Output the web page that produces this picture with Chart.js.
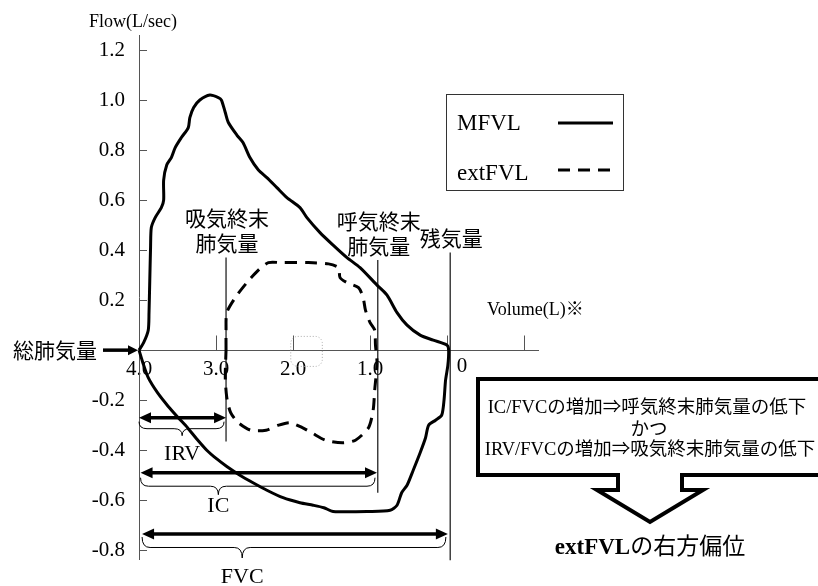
<!DOCTYPE html>
<html>
<head>
<meta charset="utf-8">
<script src="https://cdn.jsdelivr.net/npm/chart.js@4/dist/chart.umd.min.js"></script>
<style>
  html, body { margin: 0; padding: 0; background: #fff; }
  canvas { display: block; }
</style>
</head>
<body>
<canvas id="loop" width="818" height="586"></canvas>
<script>
// Maximal flow-volume loop (MFVL), traced from TLC over the expiratory limb and back along inspiration
const mfvlVolume = [4.00, 3.94, 3.88, 3.87, 3.86, 3.85, 3.84, 3.79, 3.71, 3.68, 3.68, 3.64, 3.58, 3.53, 3.45, 3.36, 3.34, 3.29, 3.21, 3.08,
  2.97, 2.93, 2.88, 2.84, 2.73, 2.65, 2.56, 2.45, 2.34, 2.21, 2.08, 1.91, 1.82, 1.65, 1.48, 1.30, 1.13, 0.91, 0.78, 0.65,
  0.52, 0.35, 0.18, 0.00, -0.02, -0.01, 0.02, 0.04, 0.07, 0.15, 0.24, 0.28, 0.35, 0.44, 0.52, 0.59, 0.65, 0.74, 1.00, 1.48,
  1.60, 1.74, 1.91, 2.13, 2.34, 2.52, 2.69, 2.86, 2.99, 3.12, 3.25, 3.37, 3.49, 3.62, 3.76, 3.88, 3.95, 4.00];
const mfvlFlow = [0.00, 0.03, 0.08, 0.15, 0.28, 0.41, 0.49, 0.53, 0.57, 0.60, 0.68, 0.74, 0.77, 0.81, 0.85, 0.89, 0.93, 0.97, 1.00, 1.02,
  1.01, 1.00, 0.95, 0.91, 0.86, 0.83, 0.77, 0.72, 0.69, 0.65, 0.61, 0.57, 0.53, 0.47, 0.42, 0.37, 0.33, 0.26, 0.22, 0.15,
  0.10, 0.06, 0.04, 0.02, 0.00, -0.06, -0.12, -0.20, -0.26, -0.28, -0.30, -0.35, -0.41, -0.48, -0.54, -0.57, -0.62, -0.64, -0.645, -0.645,
  -0.63, -0.62, -0.61, -0.59, -0.56, -0.53, -0.50, -0.465, -0.435, -0.40, -0.355, -0.31, -0.27, -0.225, -0.17, -0.11, -0.05, 0.00];

// Tidal (exercise) flow-volume loop, extFVL
const extVolume = [2.87, 2.87, 2.86, 2.75, 2.60, 2.45, 2.32, 2.15, 1.80, 1.54, 1.41, 1.39, 1.30, 1.15, 1.09, 1.06, 1.00, 0.94, 0.93, 0.91,
  0.94, 0.96, 1.02, 1.19, 1.36, 1.58, 1.76, 1.88, 2.04, 2.19, 2.35, 2.55, 2.71, 2.81, 2.86, 2.88, 2.87];
const extFlow = [0.00, 0.08, 0.15, 0.21, 0.27, 0.32, 0.35, 0.35, 0.35, 0.345, 0.33, 0.29, 0.27, 0.25, 0.21, 0.16, 0.11, 0.08, 0.02, -0.05,
  -0.16, -0.24, -0.31, -0.36, -0.37, -0.36, -0.33, -0.31, -0.29, -0.30, -0.32, -0.32, -0.29, -0.25, -0.19, -0.11, 0.00];

// Axis ticks
const xTickValues = [4, 3, 2, 1, 0, -1];
const xTickLabels = ['4.0', '3.0', '2.0', '1.0', '0', ''];
const yTickValues = [-0.8, -0.6, -0.4, -0.2, 0.2, 0.4, 0.6, 0.8, 1.0, 1.2];
const yTickLabels = ['-0.8', '-0.6', '-0.4', '-0.2', '0.2', '0.4', '0.6', '0.8', '1.0', '1.2'];

// Lung volume markers (vertical lines)
const markerNames = [['吸気終末', '肺気量'], ['呼気終末', '肺気量'], ['残気量']];
const markerVolume = [2.87, 0.90, -0.04];
const markerTop = [0.37, 0.36, 0.39];
const markerBottom = [-0.365, -0.57, -0.84];

// Volume spans (double arrows with braces)
const spanNames = ['IRV', 'IC', 'FVC'];
const spanFrom = [4.0, 3.98, 3.96];
const spanTo = [2.87, 0.91, -0.01];
const spanFlow = [-0.27, -0.49, -0.735];
const spanBraceTip = [3.44, 2.97, 2.66];

const SERIF = '"Liberation Serif", "Noto Sans CJK JP", serif';
const JP = '"Liberation Serif", "Noto Sans CJK JP", sans-serif';
const AXIS_COLOR = '#555';

function seg(ctx, x1, y1, x2, y2) {
  ctx.beginPath(); ctx.moveTo(x1, y1); ctx.lineTo(x2, y2); ctx.stroke();
}
function head(ctx, tx, ty, dir, len, half) {
  ctx.beginPath();
  ctx.moveTo(tx, ty);
  ctx.lineTo(tx - dir * len, ty - half);
  ctx.lineTo(tx - dir * len, ty + half);
  ctx.closePath();
  ctx.fill();
}
function brace(ctx, x0, x1, xt, yTop, depth) {
  const yMid = yTop + depth * 0.5, yTip = yTop + depth, r = 8;
  ctx.beginPath();
  ctx.moveTo(x0, yTop);
  ctx.quadraticCurveTo(x0, yMid, x0 + r, yMid);
  ctx.lineTo(xt - r, yMid);
  ctx.quadraticCurveTo(xt, yMid, xt, yTip);
  ctx.quadraticCurveTo(xt, yMid, xt + r, yMid);
  ctx.lineTo(x1 - r, yMid);
  ctx.quadraticCurveTo(x1, yMid, x1, yTop);
  ctx.stroke();
}

const braceOffset = [4, 5, 3];
const braceDepth = [14, 17, 21];
const spanLabelOffset = [37, 34, 43];

const decor = {
  id: 'decor',
  beforeDatasetsDraw(chart) {
    const { ctx, chartArea, scales: { x, y } } = chart;
    ctx.save();
    // inward tick marks
    ctx.strokeStyle = AXIS_COLOR;
    ctx.lineWidth = 1;
    const y0 = Math.round(y.getPixelForValue(0)) + 0.5;
    xTickValues.forEach(v => {
      const px = Math.round(x.getPixelForValue(v)) + 0.5;
      seg(ctx, px, y0, px, y0 - 15);
    });
    const xl = chartArea.left;
    yTickValues.forEach(v => {
      const py = Math.round(y.getPixelForValue(v)) + 0.5;
      seg(ctx, xl, py, xl + 8, py);
    });

    // faint dotted outline near 2.0
    ctx.strokeStyle = '#aaa';
    ctx.setLineDash([1, 2]);
    const bx0 = x.getPixelForValue(2.03), bx1 = x.getPixelForValue(1.62);
    const by0 = y.getPixelForValue(0.055), by1 = y.getPixelForValue(-0.065);
    ctx.beginPath();
    ctx.roundRect(bx0, by0, bx1 - bx0, by1 - by0, 7);
    ctx.stroke();
    ctx.setLineDash([]);

    // volume marker lines
    ctx.strokeStyle = '#111';
    ctx.lineWidth = 1.2;
    markerVolume.forEach((v, i) => {
      const px = x.getPixelForValue(v);
      seg(ctx, px, y.getPixelForValue(markerTop[i]), px, y.getPixelForValue(markerBottom[i]));
    });
    ctx.restore();
  },
  afterDraw(chart) {
    const { ctx, scales: { x, y } } = chart;
    ctx.save();
    ctx.fillStyle = '#000';
    ctx.strokeStyle = '#000';

    // span arrows, braces and labels
    spanNames.forEach((name, i) => {
      const xa = x.getPixelForValue(spanFrom[i]);
      const xb = x.getPixelForValue(spanTo[i]);
      const py = y.getPixelForValue(spanFlow[i]);
      ctx.lineWidth = 3.5;
      seg(ctx, xa + 8, py, xb - 8, py);
      head(ctx, xa, py, -1, 12, 5.5);
      head(ctx, xb, py, 1, 12, 5.5);
      ctx.lineWidth = 1;
      const xt = x.getPixelForValue(spanBraceTip[i]);
      brace(ctx, xa, xb - 2, xt, py + braceOffset[i], braceDepth[i]);
      ctx.font = '22px ' + SERIF;
      ctx.textAlign = 'center';
      ctx.textBaseline = 'middle';
      ctx.fillText(name, xt, py + spanLabelOffset[i]);
    });

    // marker labels
    ctx.font = '21px ' + JP;
    ctx.textAlign = 'center';
    ctx.textBaseline = 'middle';
    markerNames.forEach((lines, i) => {
      const px = x.getPixelForValue(markerVolume[i]);
      const top = y.getPixelForValue(markerTop[i]);
      lines.forEach((t, k) => {
        ctx.fillText(t, px + 1, top - 12 - (lines.length - 1 - k) * 25);
      });
    });

    // total lung capacity pointer
    const y0 = y.getPixelForValue(0);
    const xTlc = x.getPixelForValue(4.0);
    ctx.fillText('総肺気量', 55, y0 + 2);
    ctx.lineWidth = 3.5;
    seg(ctx, 103, y0, xTlc - 8, y0);
    head(ctx, xTlc - 1, y0, 1, 10, 5);

    // axis titles
    ctx.font = '18px ' + SERIF;
    ctx.fillText('Flow(L/sec)', 133, 22);
    ctx.textAlign = 'left';
    ctx.fillText('Volume(L)※', 487, 310);

    // legend
    const ds = chart.data.datasets;
    ctx.lineWidth = 1;
    ctx.strokeStyle = '#333';
    ctx.strokeRect(446.5, 94.5, 177, 96);
    ctx.font = '23px ' + SERIF;
    ctx.textBaseline = 'alphabetic';
    ctx.textAlign = 'left';
    [[130, 123], [180, 170]].forEach(([base, ly], i) => {
      ctx.fillText(ds[i].label, 457, base);
      ctx.strokeStyle = ds[i].borderColor;
      ctx.lineWidth = ds[i].borderWidth;
      ctx.setLineDash(ds[i].borderDash || []);
      seg(ctx, 558, ly, 613, ly);
      ctx.setLineDash([]);
    });

    // summary box with downward arrow
    ctx.strokeStyle = '#000';
    ctx.lineWidth = 4;
    ctx.lineJoin = 'miter';
    ctx.beginPath();
    ctx.moveTo(840, 379);
    ctx.lineTo(478, 379);
    ctx.lineTo(478, 475);
    ctx.lineTo(618, 475);
    ctx.lineTo(618, 490);
    ctx.lineTo(597, 490);
    ctx.lineTo(650, 522);
    ctx.lineTo(703, 490);
    ctx.lineTo(682, 490);
    ctx.lineTo(682, 475);
    ctx.lineTo(840, 475);
    ctx.stroke();

    ctx.font = '18.5px ' + JP;
    ctx.textAlign = 'center';
    ctx.textBaseline = 'middle';
    ctx.fillText('IC/FVCの増加⇒呼気終末肺気量の低下', 647, 408);
    ctx.fillText('かつ', 649, 430);
    ctx.fillText('IRV/FVCの増加⇒吸気終末肺気量の低下', 650, 450);

    // conclusion
    const boldPart = 'extFVL', plainPart = 'の右方偏位';
    ctx.font = 'bold 23px ' + SERIF;
    const wb = ctx.measureText(boldPart).width;
    ctx.font = '23px ' + JP;
    const wp = ctx.measureText(plainPart).width;
    const sx = 650 - (wb + wp) / 2;
    ctx.textAlign = 'left';
    ctx.font = 'bold 23px ' + SERIF;
    ctx.fillText(boldPart, sx, 548);
    ctx.font = '23px ' + JP;
    ctx.fillText(plainPart, sx + wb, 548);

    ctx.restore();
  }
};

const tickFont = { family: SERIF, size: 21 };

new Chart(document.getElementById('loop'), {
  type: 'scatter',
  data: {
    datasets: [
      {
        label: 'MFVL',
        data: mfvlVolume.map((v, i) => ({ x: v, y: mfvlFlow[i] })),
        showLine: true, borderColor: '#000', borderWidth: 3,
        pointRadius: 0, tension: 0.25, fill: false, clip: false
      },
      {
        label: 'extFVL',
        data: extVolume.map((v, i) => ({ x: v, y: extFlow[i] })),
        showLine: true, borderColor: '#000', borderWidth: 3, borderDash: [12, 8],
        pointRadius: 0, tension: 0.25, fill: false, clip: false
      }
    ]
  },
  options: {
    responsive: false,
    animation: false,
    devicePixelRatio: 1,
    layout: { padding: { left: 0, right: 280, top: 35, bottom: 27 } },
    plugins: { legend: { display: false }, tooltip: { enabled: false } },
    scales: {
      x: {
        type: 'linear', reverse: true, min: -1.18, max: 4.0, position: { y: 0 },
        afterBuildTicks: s => { s.ticks = xTickValues.map(v => ({ value: v })); },
        ticks: {
          autoSkip: false, maxRotation: 0, padding: 7, color: '#000', font: tickFont,
          callback: (v, i) => (xTickValues[i] === 0 ? '' : xTickLabels[i])
        },
        grid: { drawOnChartArea: false, drawTicks: false },
        border: { display: true, color: AXIS_COLOR, width: 1 }
      },
      xZero: {
        axis: 'x', type: 'linear', reverse: true, min: -1.18, max: 4.0, position: { y: 0 },
        afterBuildTicks: s => { s.ticks = [{ value: 0 }]; },
        ticks: {
          autoSkip: false, maxRotation: 0, padding: 4, labelOffset: 15, color: '#000', font: tickFont,
          callback: () => xTickLabels[xTickValues.indexOf(0)]
        },
        grid: { drawOnChartArea: false, drawTicks: false },
        border: { display: false }
      },
      y: {
        type: 'linear', min: -0.835, max: 1.26, position: 'left',
        afterBuildTicks: s => { s.ticks = yTickValues.map(v => ({ value: v })); },
        afterFit: s => { s.width = 139; },
        ticks: {
          padding: 14, color: '#000', font: tickFont,
          callback: (v, i) => yTickLabels[i]
        },
        grid: { drawOnChartArea: false, drawTicks: false },
        border: { display: true, color: AXIS_COLOR, width: 1 }
      }
    }
  },
  plugins: [decor]
});
</script>
</body>
</html>
